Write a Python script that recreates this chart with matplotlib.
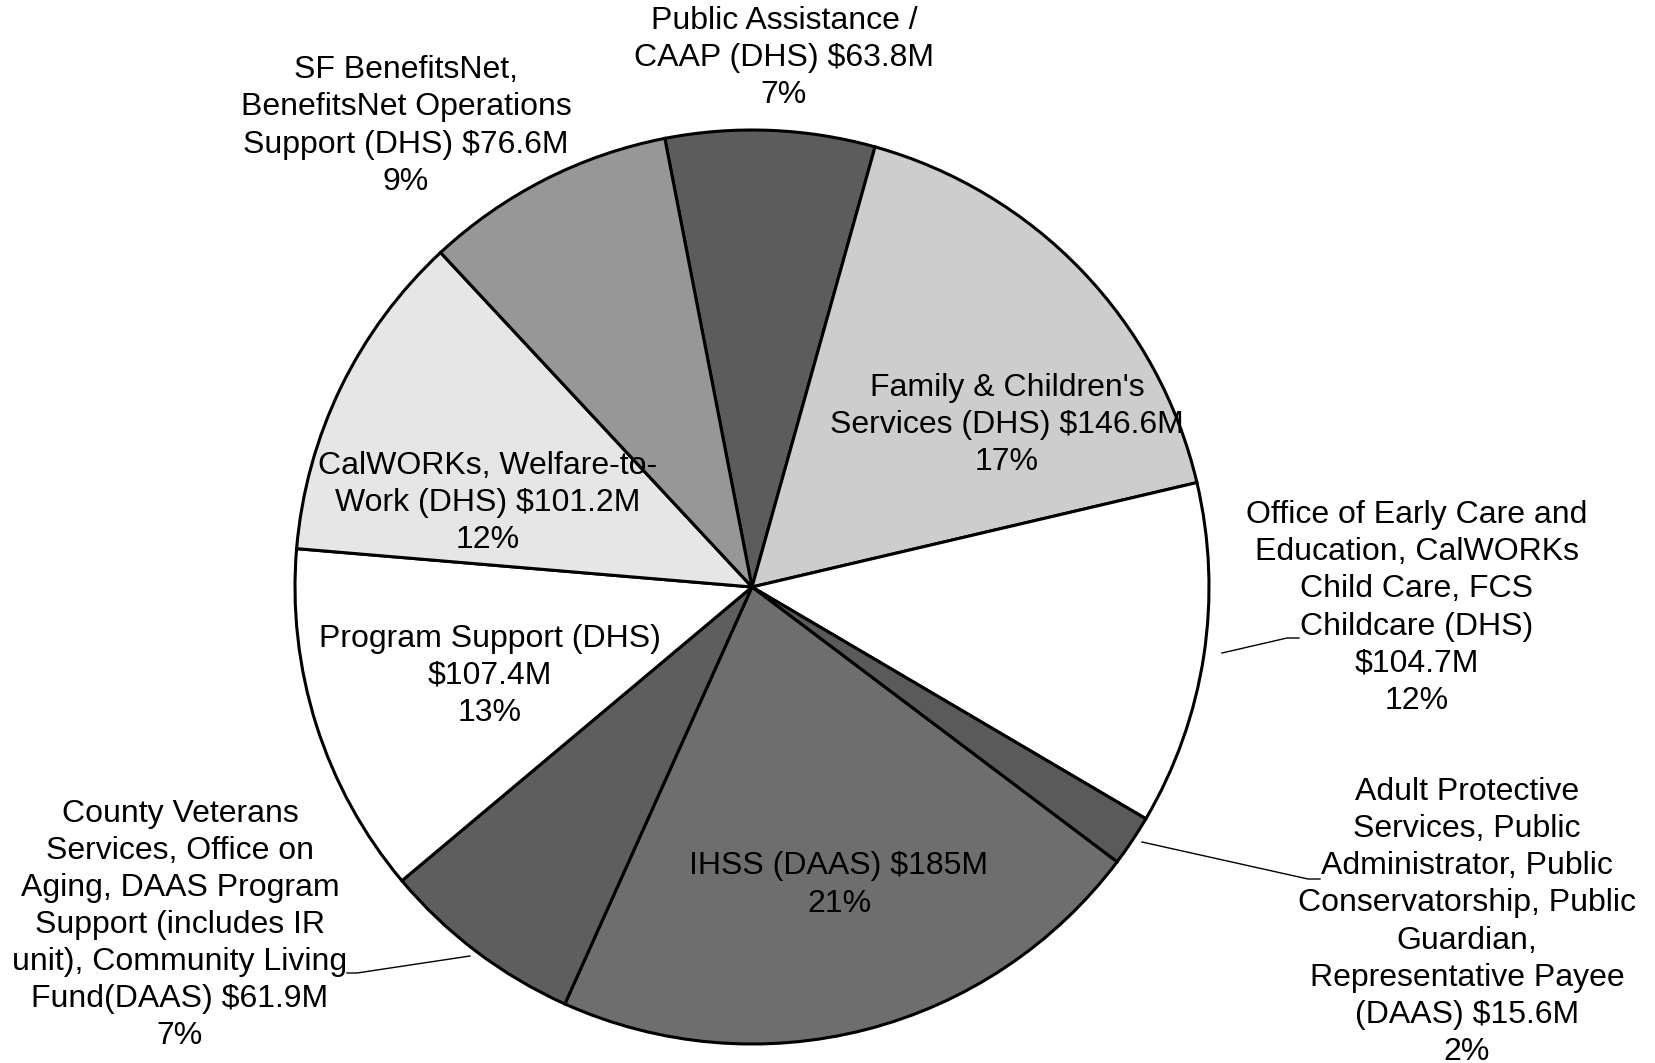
import matplotlib
matplotlib.use("Agg")
from matplotlib import pyplot as plt

plt.rcParams['font.family'] = ['Liberation Sans', 'DejaVu Sans']

# budget by program, $M (clockwise from the top)
labels = [
    "Public Assistance /\nCAAP (DHS) $63.8M\n7%",
    "Family & Children's\nServices (DHS) $146.6M\n17%",
    "Office of Early Care and\nEducation, CalWORKs\nChild Care, FCS\nChildcare (DHS)\n$104.7M\n12%",
    "Adult Protective\nServices, Public\nAdministrator, Public\nConservatorship, Public\nGuardian,\nRepresentative Payee\n(DAAS) $15.6M\n2%",
    "IHSS (DAAS) $185M\n21%",
    "County Veterans\nServices, Office on\nAging, DAAS Program\nSupport (includes IR\nunit), Community Living\nFund(DAAS) $61.9M\n7%",
    "Program Support (DHS)\n$107.4M\n13%",
    "CalWORKs, Welfare-to-\nWork (DHS) $101.2M\n12%",
    "SF BenefitsNet,\nBenefitsNet Operations\nSupport (DHS) $76.6M\n9%",
]
values = [63.8, 146.6, 104.7, 15.6, 185, 61.9, 107.4, 101.2, 76.6]
colors = ["#5c5c5c", "#cdcdcd", "#ffffff", "#5a5a5a", "#6e6e6e",
          "#5e5e5e", "#ffffff", "#e6e6e6", "#979797"]

W, H = 1656, 1063
# label centres in picture pixels (x, y from top)
label_pos = [(784, 58), (1007, 425), (1417, 608), (1467, 922), (839, 885),
             (180, 925), (490, 676), (488, 503), (406, 126)]
leaders = [
    None, None,
    [(1222, 653), (1287, 638), (1299, 638)],
    [(1142, 842), (1308, 879), (1320, 879)],
    None,
    [(470, 956), (357, 973), (347, 973)],
    None, None, None,
]

fig = plt.figure(figsize=(W / 100, H / 100), dpi=100)
ax = fig.add_axes([0, 0, 1, 1])
ax.pie(values, colors=colors, startangle=101.0, counterclock=False,
       center=(752, H - 587), radius=457,
       wedgeprops=dict(edgecolor="black", linewidth=2.2))
ax.set_xlim(0, W)
ax.set_ylim(0, H)
ax.set_aspect("equal")
ax.axis("off")

for text, (x, y), lead in zip(labels, label_pos, leaders):
    ax.text(x, H - y, text, ha="center", va="center", multialignment="center",
            fontsize=23, linespacing=1.31, color="black")
    if lead:
        ax.plot([p[0] for p in lead], [H - p[1] for p in lead],
                color="black", linewidth=1.0)

fig.savefig("out.png", dpi=100)
